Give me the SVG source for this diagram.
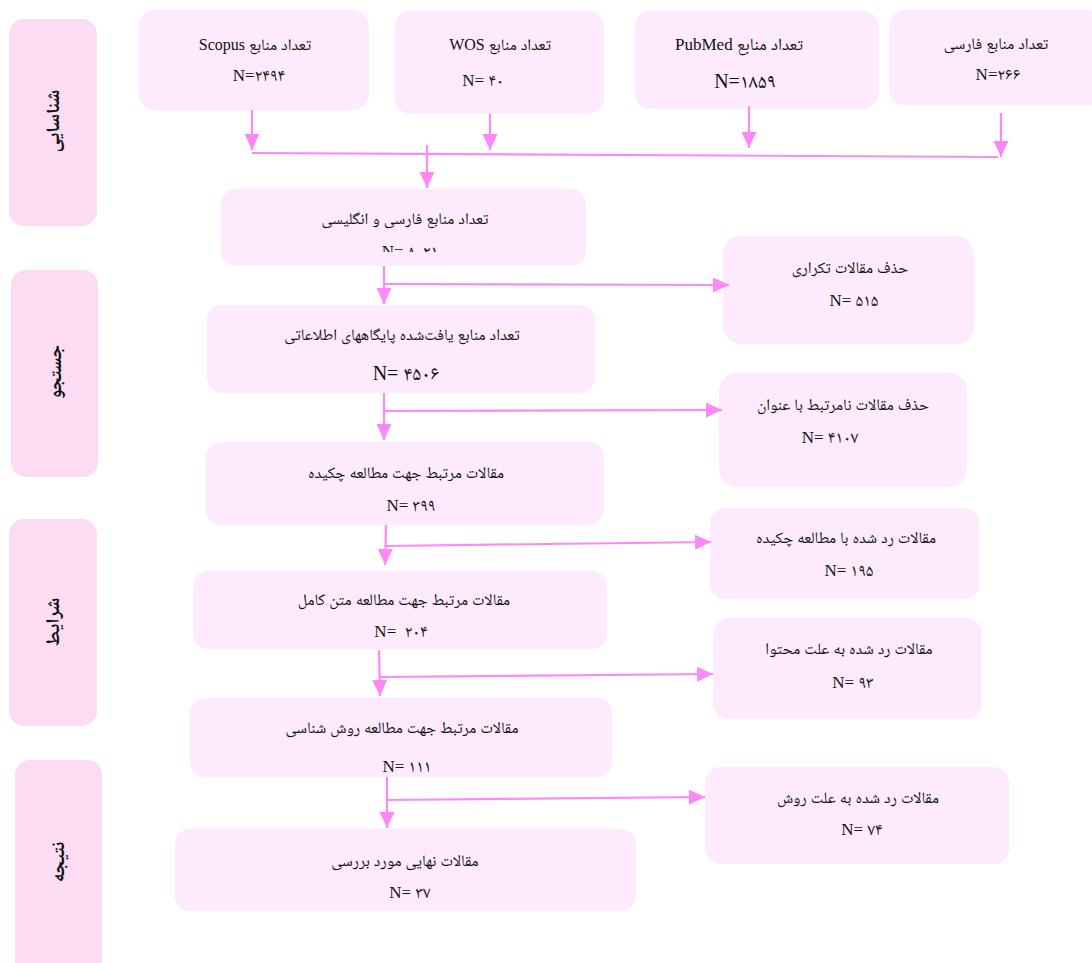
<svg xmlns="http://www.w3.org/2000/svg" width="1092" height="963" viewBox="0 0 1092 963">
<defs>
<style>
.lane{fill:#fcdcf2;}
.box{fill:#fdeafc;}
.t{font-family:"Liberation Serif","Noto Naskh Arabic","DejaVu Sans",serif;font-size:16px;fill:#111;text-anchor:middle;}
.fa{direction:rtl;unicode-bidi:embed;}
.n{font-size:17px;white-space:pre;}
.nb{font-size:20px;}
.lt{font-family:"Liberation Serif","Noto Naskh Arabic","DejaVu Sans",serif;font-size:19px;font-weight:bold;fill:#111;text-anchor:middle;direction:rtl;}
.c{stroke:#ff88f6;stroke-width:2.2;fill:none;}
</style>
<marker id="ah" markerUnits="userSpaceOnUse" markerWidth="17" markerHeight="16" refX="16" refY="7.5" orient="auto">
<path d="M0,0 L16,7.5 L0,15 z" fill="#ff88f6"/>
</marker>
<clipPath id="clip1"><rect x="221" y="189" width="365" height="63"/></clipPath>
</defs>
<rect width="1092" height="963" fill="#ffffff"/>

<g id="lane-identification">
<rect class="lane" x="9" y="19" width="88" height="207" rx="15"/>
<text class="lt" transform="translate(53,121) rotate(-90)" dy="6">شناسایی</text>
</g>
<g id="lane-search">
<rect class="lane" x="11" y="270" width="87" height="207" rx="15"/>
<text class="lt" transform="translate(55,372) rotate(-90)" dy="6">جستجو</text>
</g>
<g id="lane-eligibility">
<rect class="lane" x="9" y="519" width="88" height="207" rx="15"/>
<text class="lt" transform="translate(53,622) rotate(-90)" dy="6">شرایط</text>
</g>
<g id="lane-result">
<rect class="lane" x="15" y="760" width="87" height="215" rx="15"/>
<text class="lt" transform="translate(58,862) rotate(-90)" dy="6">نتیجه</text>
</g>

<g id="scopus">
<rect class="box" x="139" y="10" width="230" height="100" rx="16"/>
<text class="t fa" x="255" y="50">تعداد منابع Scopus</text>
<text class="t n" x="259" y="81">N=۲۴۹۴</text>
</g>
<g id="wos">
<rect class="box" x="395" y="11" width="209" height="103" rx="16"/>
<text class="t fa" x="500" y="50">تعداد منابع WOS</text>
<text class="t n" x="483" y="86">N= ۴۰</text>
</g>
<g id="pubmed">
<rect class="box" x="635" y="11" width="244" height="98" rx="16"/>
<text class="t fa" x="739" y="50" style="font-size:17px">تعداد منابع PubMed</text>
<text class="t n" x="745" y="88" style="font-size:20px">N=۱۸۵۹</text>
</g>
<g id="persian">
<rect class="box" x="889" y="10" width="215" height="95" rx="16"/>
<text class="t fa" x="996" y="49">تعداد منابع فارسی</text>
<text class="t n" x="998" y="80">N=۲۶۶</text>
</g>

<g id="combined">
<rect class="box" x="221" y="189" width="365" height="77" rx="15"/>
<text class="t fa" x="405" y="224">تعداد منابع فارسی و انگلیسی</text>
<text class="t n" x="410" y="257" clip-path="url(#clip1)">N= ۸۰۲۱</text>
</g>
<g id="duplicates">
<rect class="box" x="723" y="236" width="251" height="108" rx="18"/>
<text class="t fa" x="850" y="273">حذف مقالات تکراری</text>
<text class="t n" x="854" y="306">N= ۵۱۵</text>
</g>
<g id="found">
<rect class="box" x="207" y="305" width="388" height="88" rx="15"/>
<text class="t fa" x="402" y="340">تعداد منابع یافت‌شده پایگاههای اطلاعاتی</text>
<text class="t n nb" x="406" y="380">N= ۴۵۰۶</text>
</g>
<g id="title-excluded">
<rect class="box" x="719" y="373" width="248" height="114" rx="18"/>
<text class="t fa" x="843" y="410">حذف مقالات نامرتبط با عنوان</text>
<text class="t n" x="830" y="443">N= ۴۱۰۷</text>
</g>
<g id="abstract">
<rect class="box" x="206" y="442" width="398" height="83" rx="15"/>
<text class="t fa" x="406" y="478">مقالات مرتبط جهت مطالعه چکیده</text>
<text class="t n" x="411" y="511">N= ۳۹۹</text>
</g>
<g id="abstract-excluded">
<rect class="box" x="710" y="508" width="269" height="91" rx="15"/>
<text class="t fa" x="846" y="543">مقالات رد شده با مطالعه چکیده</text>
<text class="t n" x="849" y="576">N= ۱۹۵</text>
</g>
<g id="fulltext">
<rect class="box" x="193" y="571" width="414" height="78" rx="15"/>
<text class="t fa" x="404" y="605">مقالات مرتبط جهت مطالعه متن کامل</text>
<text class="t n" x="401" y="637">N=  ۲۰۴</text>
</g>
<g id="content-excluded">
<rect class="box" x="713" y="618" width="269" height="101" rx="16"/>
<text class="t fa" x="849" y="654">مقالات رد شده به علت محتوا</text>
<text class="t n" x="853" y="688">N= ۹۳</text>
</g>
<g id="method">
<rect class="box" x="190" y="698" width="422" height="79" rx="15"/>
<text class="t fa" x="402" y="733">مقالات مرتبط جهت مطالعه روش شناسی</text>
<text class="t n" x="407" y="772">N= ۱۱۱</text>
</g>
<g id="method-excluded">
<rect class="box" x="705" y="767" width="304" height="97" rx="16"/>
<text class="t fa" x="858" y="803">مقالات رد شده به علت روش</text>
<text class="t n" x="862" y="835">N= ۷۴</text>
</g>
<g id="final">
<rect class="box" x="175" y="829" width="461" height="82" rx="15"/>
<text class="t fa" x="405" y="866">مقالات نهایی مورد بررسی</text>
<text class="t n" x="410" y="898">N= ۳۷</text>
</g>

<g id="connectors">
<line class="c" x1="252" y1="110" x2="252" y2="150" marker-end="url(#ah)"/>
<line class="c" x1="490" y1="114" x2="490" y2="150" marker-end="url(#ah)"/>
<line class="c" x1="749" y1="106" x2="749" y2="148" marker-end="url(#ah)"/>
<line class="c" x1="1001" y1="113" x2="1001" y2="157" marker-end="url(#ah)"/>
<line class="c" x1="252" y1="153" x2="998" y2="157"/>
<line class="c" x1="427" y1="145" x2="427" y2="188" marker-end="url(#ah)"/>
<line class="c" x1="384" y1="266" x2="384" y2="304" marker-end="url(#ah)"/>
<line class="c" x1="384" y1="284" x2="729" y2="285" marker-end="url(#ah)"/>
<line class="c" x1="384" y1="393" x2="384" y2="440" marker-end="url(#ah)"/>
<line class="c" x1="384" y1="411" x2="722" y2="410" marker-end="url(#ah)"/>
<line class="c" x1="386" y1="525" x2="385" y2="565" marker-end="url(#ah)"/>
<line class="c" x1="386" y1="546" x2="711" y2="542" marker-end="url(#ah)"/>
<line class="c" x1="379" y1="650" x2="380" y2="696" marker-end="url(#ah)"/>
<line class="c" x1="380" y1="677" x2="713" y2="674" marker-end="url(#ah)"/>
<line class="c" x1="387" y1="777" x2="387" y2="828" marker-end="url(#ah)"/>
<line class="c" x1="387" y1="800" x2="705" y2="797" marker-end="url(#ah)"/>
</g>
</svg>
